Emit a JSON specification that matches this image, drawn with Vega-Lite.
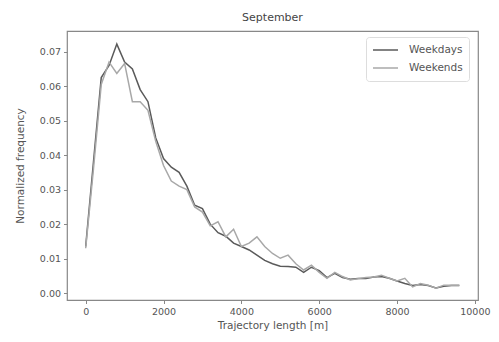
{
  "$schema": "https://vega.github.io/schema/vega-lite/v6.json",
  "width": 411,
  "height": 269,
  "autosize": "none",
  "padding": {"left": 67, "top": 31, "right": 21, "bottom": 42},
  "background": "white",
  "title": {"text": "September", "fontSize": 11, "font": "DejaVu Sans", "fontWeight": "normal", "color": "#444", "offset": 8},
  "config": {
    "view": {"stroke": "#888", "strokeWidth": 1.2},
    "axis": {"grid": false, "domain": false, "tickColor": "#888", "tickSize": 3.5, "labelFont": "DejaVu Sans", "labelFontSize": 9.5, "labelColor": "#555", "titleFont": "DejaVu Sans", "titleFontSize": 10.5, "titleFontWeight": "normal", "titleColor": "#555", "labelPadding": 3}
  },
  "data": {"values": [
    {"x":0,"y":0.0135,"s":"Weekdays"},{"x":200,"y":0.038,"s":"Weekdays"},{"x":400,"y":0.0625,"s":"Weekdays"},{"x":600,"y":0.066,"s":"Weekdays"},{"x":800,"y":0.0722,"s":"Weekdays"},{"x":1000,"y":0.067,"s":"Weekdays"},{"x":1200,"y":0.065,"s":"Weekdays"},{"x":1400,"y":0.059,"s":"Weekdays"},{"x":1600,"y":0.0555,"s":"Weekdays"},{"x":1800,"y":0.045,"s":"Weekdays"},{"x":2000,"y":0.039,"s":"Weekdays"},{"x":2200,"y":0.0365,"s":"Weekdays"},{"x":2400,"y":0.035,"s":"Weekdays"},{"x":2600,"y":0.031,"s":"Weekdays"},{"x":2800,"y":0.0255,"s":"Weekdays"},{"x":3000,"y":0.0245,"s":"Weekdays"},{"x":3200,"y":0.02,"s":"Weekdays"},{"x":3400,"y":0.0175,"s":"Weekdays"},{"x":3600,"y":0.0165,"s":"Weekdays"},{"x":3800,"y":0.0145,"s":"Weekdays"},{"x":4000,"y":0.0135,"s":"Weekdays"},{"x":4200,"y":0.0125,"s":"Weekdays"},{"x":4400,"y":0.011,"s":"Weekdays"},{"x":4600,"y":0.0095,"s":"Weekdays"},{"x":4800,"y":0.0085,"s":"Weekdays"},{"x":5000,"y":0.0078,"s":"Weekdays"},{"x":5200,"y":0.0077,"s":"Weekdays"},{"x":5400,"y":0.0075,"s":"Weekdays"},{"x":5600,"y":0.006,"s":"Weekdays"},{"x":5800,"y":0.0075,"s":"Weekdays"},{"x":6000,"y":0.0065,"s":"Weekdays"},{"x":6200,"y":0.0045,"s":"Weekdays"},{"x":6400,"y":0.0057,"s":"Weekdays"},{"x":6600,"y":0.0045,"s":"Weekdays"},{"x":6800,"y":0.004,"s":"Weekdays"},{"x":7000,"y":0.0042,"s":"Weekdays"},{"x":7200,"y":0.0042,"s":"Weekdays"},{"x":7400,"y":0.0047,"s":"Weekdays"},{"x":7600,"y":0.0048,"s":"Weekdays"},{"x":7800,"y":0.0043,"s":"Weekdays"},{"x":8000,"y":0.0035,"s":"Weekdays"},{"x":8200,"y":0.0028,"s":"Weekdays"},{"x":8400,"y":0.0022,"s":"Weekdays"},{"x":8600,"y":0.0025,"s":"Weekdays"},{"x":8800,"y":0.0022,"s":"Weekdays"},{"x":9000,"y":0.0015,"s":"Weekdays"},{"x":9200,"y":0.002,"s":"Weekdays"},{"x":9400,"y":0.0022,"s":"Weekdays"},{"x":9600,"y":0.0022,"s":"Weekdays"},
    {"x":0,"y":0.013,"s":"Weekends"},{"x":200,"y":0.036,"s":"Weekends"},{"x":400,"y":0.0605,"s":"Weekends"},{"x":600,"y":0.067,"s":"Weekends"},{"x":800,"y":0.0637,"s":"Weekends"},{"x":1000,"y":0.0666,"s":"Weekends"},{"x":1200,"y":0.0555,"s":"Weekends"},{"x":1400,"y":0.0555,"s":"Weekends"},{"x":1600,"y":0.053,"s":"Weekends"},{"x":1800,"y":0.044,"s":"Weekends"},{"x":2000,"y":0.037,"s":"Weekends"},{"x":2200,"y":0.0325,"s":"Weekends"},{"x":2400,"y":0.031,"s":"Weekends"},{"x":2600,"y":0.03,"s":"Weekends"},{"x":2800,"y":0.025,"s":"Weekends"},{"x":3000,"y":0.0235,"s":"Weekends"},{"x":3200,"y":0.0195,"s":"Weekends"},{"x":3400,"y":0.0207,"s":"Weekends"},{"x":3600,"y":0.0163,"s":"Weekends"},{"x":3800,"y":0.0185,"s":"Weekends"},{"x":4000,"y":0.0135,"s":"Weekends"},{"x":4200,"y":0.0145,"s":"Weekends"},{"x":4400,"y":0.0163,"s":"Weekends"},{"x":4600,"y":0.0135,"s":"Weekends"},{"x":4800,"y":0.0115,"s":"Weekends"},{"x":5000,"y":0.0101,"s":"Weekends"},{"x":5200,"y":0.011,"s":"Weekends"},{"x":5400,"y":0.0085,"s":"Weekends"},{"x":5600,"y":0.0067,"s":"Weekends"},{"x":5800,"y":0.0081,"s":"Weekends"},{"x":6000,"y":0.006,"s":"Weekends"},{"x":6200,"y":0.0043,"s":"Weekends"},{"x":6400,"y":0.006,"s":"Weekends"},{"x":6600,"y":0.0048,"s":"Weekends"},{"x":6800,"y":0.0038,"s":"Weekends"},{"x":7000,"y":0.0042,"s":"Weekends"},{"x":7200,"y":0.0045,"s":"Weekends"},{"x":7400,"y":0.0047,"s":"Weekends"},{"x":7600,"y":0.0052,"s":"Weekends"},{"x":7800,"y":0.0043,"s":"Weekends"},{"x":8000,"y":0.0035,"s":"Weekends"},{"x":8200,"y":0.0043,"s":"Weekends"},{"x":8400,"y":0.0018,"s":"Weekends"},{"x":8600,"y":0.0028,"s":"Weekends"},{"x":8800,"y":0.0023,"s":"Weekends"},{"x":9000,"y":0.0014,"s":"Weekends"},{"x":9200,"y":0.0023,"s":"Weekends"},{"x":9400,"y":0.0023,"s":"Weekends"},{"x":9600,"y":0.0023,"s":"Weekends"}
  ]},
  "mark": {"type": "line", "strokeWidth": 1.5},
  "encoding": {
    "x": {"field": "x", "type": "quantitative", "title": "Trajectory length [m]",
      "scale": {"domain": [-480, 10080], "nice": false, "zero": false},
      "axis": {"values": [0, 2000, 4000, 6000, 8000, 10000], "format": "d"}},
    "y": {"field": "y", "type": "quantitative", "title": "Normalized frequency",
      "scale": {"domain": [-0.002, 0.076], "nice": false, "zero": false},
      "axis": {"values": [0, 0.01, 0.02, 0.03, 0.04, 0.05, 0.06, 0.07], "format": ".2f", "titlePadding": 14}},
    "color": {"field": "s", "type": "nominal", "title": null,
      "scale": {"domain": ["Weekdays", "Weekends"], "range": ["#5a5a5a", "#a8a8a8"]},
      "legend": {"orient": "none", "legendX": 299, "legendY": 6, "symbolType": "stroke", "symbolSize": 625, "symbolStrokeWidth": 1.5, "labelFont": "DejaVu Sans", "labelFontSize": 10.5, "labelColor": "#555", "strokeColor": "#ddd", "fillColor": "white", "padding": 6, "cornerRadius": 3, "rowPadding": 4, "labelOffset": 10, "clipHeight": 14}}
  }
}
